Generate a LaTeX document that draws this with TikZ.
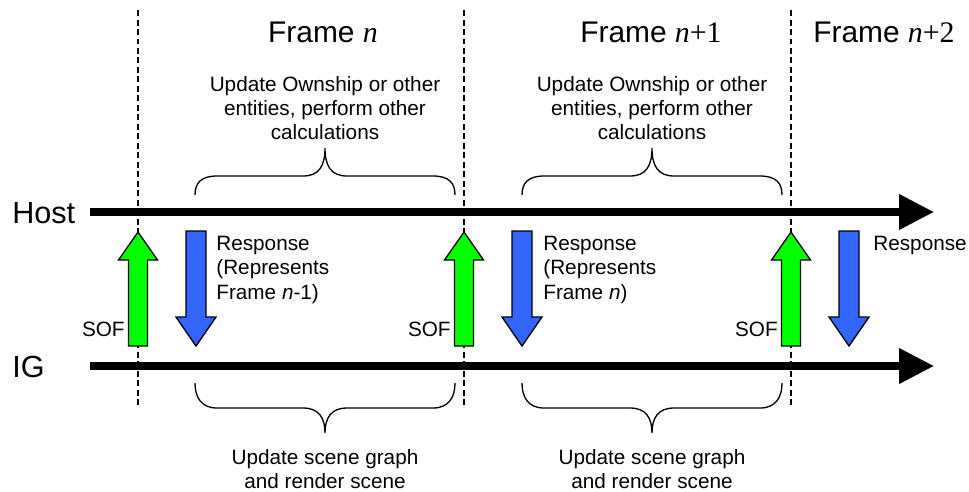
\documentclass[tikz,border=0pt]{standalone}
\usepackage{fontspec}
\setmainfont{Liberation Sans}
\newfontfamily\tms{Liberation Serif}
\usepackage{tikz}
\usepackage{xcolor}
\usetikzlibrary{arrows.meta}
\definecolor{sofgreen}{HTML}{00FF00}
\definecolor{respblue}{HTML}{3366FF}
\newcommand{\fn}[1]{{\tms\itshape n}{\tms #1}}

\begin{document}
\begin{tikzpicture}[x=0.02cm,y=-0.02cm,
  timeline/.style={line width=0.146cm,-{Triangle[length=0.7cm,width=0.68cm]}},
  framesep/.style={dash pattern=on 0.12cm off 0.07cm,line width=0.6pt},
  sofarrow/.style={fill=sofgreen,draw=black,line width=0.75pt,line join=miter},
  resparrow/.style={fill=respblue,draw=black,line width=0.75pt,line join=miter},
  brace/.style={line width=0.75pt},
  small/.style={font=\fontsize{11.8}{13.8}\selectfont,inner sep=0pt},
  title/.style={font=\fontsize{17}{20}\selectfont,inner sep=0pt},
  axislabel/.style={font=\fontsize{17.4}{20}\selectfont,inner sep=0pt}]
  \useasboundingbox (0,0) rectangle (969,491);
  % frame boundaries
  \foreach \x in {138,464,791} \draw[framesep] (\x,10) -- (\x,408);
  % host and IG time lines
  \node[axislabel,anchor=base west] (host) at (12,223) {Host};
  \node[axislabel,anchor=base west] (ig) at (12,377) {IG};
  \coordinate (hoststart) at (90,212); \coordinate (hostend) at (934,212);
  \coordinate (igstart) at (90,366); \coordinate (igend) at (934,366);
  \draw[timeline] (hoststart) -- (hostend);
  \draw[timeline] (igstart) -- (igend);
  % SOF and response arrows
  \foreach \x [evaluate=\x as \r using \x+58] in {138,464,791}{
    \draw[sofarrow] (\x-9.5,346) -- (\x-9.5,260) -- (\x-19.5,260) -- (\x,232) -- (\x+19.5,260) -- (\x+9.5,260) -- (\x+9.5,346) -- cycle;
    \draw[resparrow] (\r-10,231) -- (\r+10,231) -- (\r+10,317) -- (\r+20,317) -- (\r,346) -- (\r-20,317) -- (\r-10,317) -- cycle;
    \node[small,anchor=east] (sof\x) at (\x-13,329) {SOF};
  }
  \node[small,anchor=north west,align=left] (resp0) at (216,236) {Response\\(Represents\\Frame \textit{n}-1)};
  \node[small,anchor=north west,align=left] (resp1) at (543,236) {Response\\(Represents\\Frame \textit{n})};
  \node[small,anchor=north west,align=left] (resp2) at (873,236) {Response};
  % frame titles
  \node[title,anchor=base] (frame0) at (323,42) {Frame \fn{}};
  \node[title,anchor=base] (frame1) at (651,42) {Frame \fn{+1}};
  \node[title,anchor=base] (frame2) at (884,42) {Frame \fn{+2}};
  % braces and what happens in each frame
  \foreach \c in {325,652}{
    \draw[brace] (\c-130,195) .. controls (\c-130,183) and (\c-124,176) .. (\c-108,176) -- (\c-22,176) .. controls (\c-6,176) and (\c,166) .. (\c,148) .. controls (\c,166) and (\c+6,176) .. (\c+22,176) -- (\c+108,176) .. controls (\c+124,176) and (\c+130,183) .. (\c+130,195);
    \draw[brace] (\c-130,383) .. controls (\c-130,397) and (\c-124,408) .. (\c-108,408) -- (\c-22,408) .. controls (\c-6,408) and (\c,418) .. (\c,433) .. controls (\c,418) and (\c+6,408) .. (\c+22,408) -- (\c+108,408) .. controls (\c+124,408) and (\c+130,397) .. (\c+130,383);
    \node[small,align=center] (host\c) at (\c,108) {Update Ownship or other\\entities, perform other\\calculations};
    \node[small,align=center] (ig\c) at (\c,469) {Update scene graph\\and render scene};
  }
\end{tikzpicture}
\end{document}
